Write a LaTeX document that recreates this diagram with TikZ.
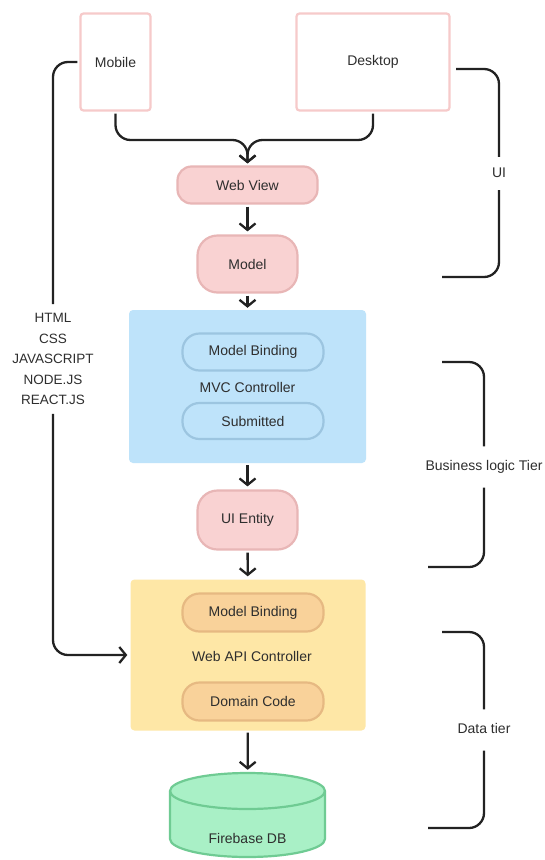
\documentclass[tikz,border=0pt]{standalone}
\usepackage{fontspec}
\setmainfont{Liberation Sans}
\usetikzlibrary{arrows.meta}

\definecolor{ink}{HTML}{222222}
\definecolor{txt}{HTML}{2E2E2E}
\definecolor{pinkfill}{HTML}{F9D2D2}
\definecolor{pinkline}{HTML}{E8B6B6}
\definecolor{deviceline}{HTML}{F6CACA}
\definecolor{bluefill}{HTML}{BEE3FA}
\definecolor{blueline}{HTML}{9CC5E0}
\definecolor{yellowfill}{HTML}{FEE7A6}
\definecolor{orangefill}{HTML}{F9D29A}
\definecolor{orangeline}{HTML}{E6B982}
\definecolor{greenfill}{HTML}{A9F0C6}
\definecolor{greenline}{HTML}{6FCB93}

\begin{document}
\begin{tikzpicture}[x=1pt,y=-1pt,
  every node/.style={font=\fontsize{14}{17}\selectfont, text=txt},
  device/.style={draw=deviceline, line width=2.2pt, fill=white, rounded corners=3pt},
  pinkbox/.style={draw=pinkline, line width=2.2pt, fill=pinkfill},
  layer/.style={rounded corners=4pt},
  pill/.style={line width=2.2pt, rounded corners=17pt, minimum width=141pt, minimum height=37pt},
  wire/.style={draw=ink, line width=2.3pt},
  arr/.style={wire, -{Straight Barb[length=6.5pt,width=16pt,line width=2.3pt]}},
  tierlabel/.style={inner xsep=0pt, text height=10pt, text depth=3pt, inner ysep=14pt},
]
% canvas
\useasboundingbox (0,0) rectangle (544,860);
\fill[white] (0,0) rectangle (544,860);

% client devices
\node[device, minimum width=70pt, minimum height=97pt] (mobile) at (115.5,62) {Mobile};
\node[device, minimum width=153pt, minimum height=97pt] (desktop) at (373,62) {Desktop};

% presentation nodes
\node[pinkbox, rounded corners=14pt, minimum width=140pt, minimum height=37pt] (webview) at (247.5,185) {Web View};
\node[pinkbox, rounded corners=20pt, minimum width=100pt, minimum height=57pt] (model) at (247.5,264) {Model};

% MVC controller layer
\node[layer, fill=bluefill, minimum width=237pt, minimum height=153pt] (mvc) at (247.5,386.5) {};
\node[pill, draw=blueline, fill=bluefill] (mvcbind) at (253,352) {Model Binding};
\node (mvclabel) at (247.5,387) {MVC Controller};
\node[pill, draw=blueline, fill=bluefill, minimum height=36pt] (submitted) at (253,421) {Submitted};

% entity
\node[pinkbox, rounded corners=20pt, minimum width=100pt, minimum height=59pt] (entity) at (247.5,520) {UI Entity};

% Web API controller layer
\node[layer, fill=yellowfill, minimum width=235pt, minimum height=151pt] (api) at (248,655) {};
\node[pill, draw=orangeline, fill=orangefill, minimum height=38pt] (apibind) at (253,612.5) {Model Binding};
\node (apilabel) at (252,656) {Web API Controller};
\node[pill, draw=orangeline, fill=orangefill, minimum height=38pt] (domain) at (253,701.5) {Domain Code};

% database cylinder
\node[minimum width=155pt, minimum height=84pt, inner sep=0pt] (db) at (247.5,815) {};
\path[fill=greenfill, draw=greenline, line width=2.2pt]
  (170,791) -- (170,839) arc[start angle=180, end angle=0, x radius=77.5, y radius=18]
  -- (325,791) arc[start angle=0, end angle=-180, x radius=77.5, y radius=18] -- cycle;
\draw[greenline, line width=2.2pt] (170,791) arc[start angle=180, end angle=0, x radius=77.5, y radius=18];
\node (dblabel) at (247.5,838) {Firebase DB};

% technology list
\node[align=center, font=\fontsize{13.5}{20.5}\selectfont, inner xsep=2pt, inner ysep=9pt] (tech) at (53,359)
  {HTML\\CSS\\JAVASCRIPT\\NODE.JS\\REACT.JS};

% main flow
\draw[arr, rounded corners=15pt, shorten <=2pt, shorten >=2pt] (mobile.south) |- (150,140) -| (webview.north);
\draw[arr, rounded corners=15pt, shorten <=2pt, shorten >=2pt] (desktop.south) |- (340,140) -| (webview.north);
\draw[arr, shorten <=2pt, shorten >=3pt] (webview) -- (model);
\draw[arr, shorten <=2pt, shorten >=2pt] (model) -- (mvc);
\draw[arr, shorten <=2pt, shorten >=3pt] (mvc) -- (entity);
\draw[arr, shorten <=2pt, shorten >=3pt] (entity) -- (api);
\draw[arr, shorten <=2pt, shorten >=3pt] (api) -- (db);

% technology link from mobile to the API layer
\draw[wire, rounded corners=15pt, shorten <=2pt] (mobile.west) -| (tech.north);
\draw[arr, rounded corners=15pt, shorten >=3pt] (tech.south) |- (api.west);

% tier brackets
\node[tierlabel, inner ysep=10pt] (ui) at (499,173.5) {UI};
\coordinate (uitop) at (456,69);
\coordinate (uibot) at (442,277);
\draw[wire, rounded corners=15pt] (uitop) -| (ui.north);
\draw[wire, rounded corners=15pt] (ui.south) |- (uibot);

\node[tierlabel, inner xsep=0pt] (biz) at (484,467) {Business logic Tier};
\coordinate (biztop) at (442,362);
\coordinate (bizbot) at (428,567);
\draw[wire, rounded corners=15pt] (biztop) -| (biz.north);
\draw[wire, rounded corners=15pt] (biz.south) |- (bizbot);

\node[tierlabel] (data) at (484,730) {Data tier};
\coordinate (datatop) at (442,632);
\coordinate (databot) at (428,828);
\draw[wire, rounded corners=15pt] (datatop) -| (data.north);
\draw[wire, rounded corners=15pt] (data.south) |- (databot);
\end{tikzpicture}
\end{document}
